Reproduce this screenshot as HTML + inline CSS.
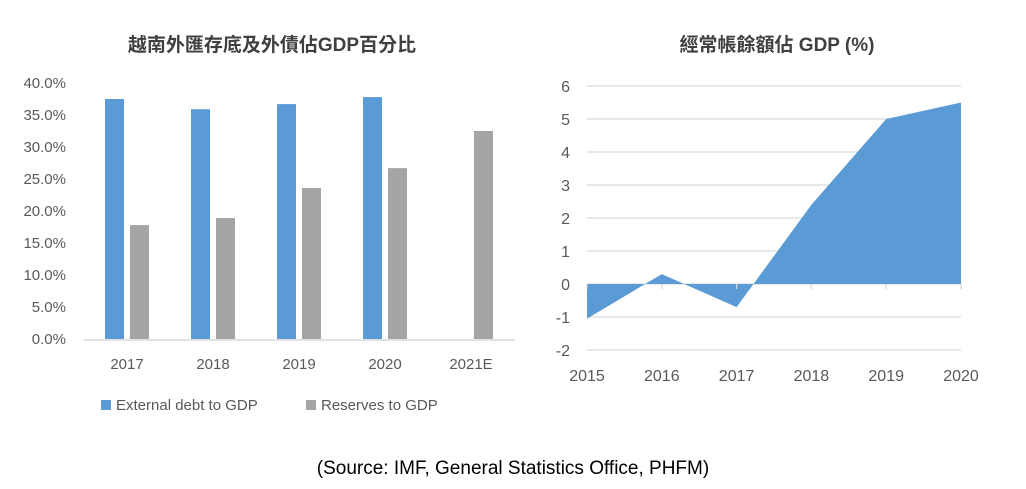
<!DOCTYPE html>
<html><head><meta charset="utf-8"><style>
body{margin:0;background:#fff;}
svg text{font-family:"Liberation Sans","Noto Sans CJK TC",sans-serif;}
</style></head><body>
<svg width="1026" height="484" viewBox="0 0 1026 484">
<text x="272" y="51" text-anchor="middle" font-size="19" font-weight="bold" fill="#404040">越南外匯存底及外債佔GDP百分比</text>
<text x="777" y="51" text-anchor="middle" font-size="19" font-weight="bold" fill="#404040">經常帳餘額佔 GDP (%)</text>
<g id="left"></g>
<g id="right"></g>
<rect x="101" y="400" width="10" height="10" fill="#5b9bd5"/>
<text x="116" y="410" font-size="15" fill="#595959">External debt to GDP</text>
<rect x="306" y="400" width="10" height="10" fill="#a5a5a5"/>
<text x="321" y="410" font-size="15" fill="#595959">Reserves to GDP</text>
<text x="513" y="474" text-anchor="middle" font-size="19" fill="#000">(Source: IMF, General Statistics Office, PHFM)</text>
</svg>
<script>
const barCategories=["2017","2018","2019","2020","2021E"];
const debtValues=[37.5,35.9,36.7,37.8,null];
const reserveValues=[17.8,18.9,23.6,26.7,32.5];
const barTicks=[0,5,10,15,20,25,30,35,40];
const areaYears=["2015","2016","2017","2018","2019","2020"];
const caValues=[-1.05,0.3,-0.7,2.4,5.0,5.5];
const areaTicks=[-2,-1,0,1,2,3,4,5,6];
const NS="http://www.w3.org/2000/svg";
function mk(p,t,a){const e=document.createElementNS(NS,t);for(const k in a)e.setAttribute(k,a[k]);p.appendChild(e);return e;}
const L=document.getElementById('left');
const yB=v=>339-v*256/40;
const xB=i=>127+i*86;
barTicks.forEach(t=>{const e=mk(L,'text',{x:66,y:yB(t)+5,'text-anchor':'end','font-size':15,fill:'#595959'});e.textContent=t.toFixed(1)+'%';

});
const ax=mk(L,'line',{x1:84,x2:515,y1:340,y2:340,stroke:'#d9d9d9','stroke-width':1.5});


barCategories.forEach((c,i)=>{
 if(debtValues[i]!=null){const r=mk(L,'rect',{x:xB(i)-22,y:yB(debtValues[i]),width:19,height:yB(0)-yB(debtValues[i]),fill:'#5b9bd5'});
 
 }
 const g=mk(L,'rect',{x:xB(i)+3,y:yB(reserveValues[i]),width:19,height:yB(0)-yB(reserveValues[i]),fill:'#a5a5a5'});
 
 
 const t=mk(L,'text',{x:xB(i),y:369,'text-anchor':'middle','font-size':15,fill:'#595959'});t.textContent=c;
 
 
});
const R=document.getElementById('right');
const yA=v=>284-v*33;
const xA=i=>587+i*74.8;
areaTicks.forEach(t=>{const l=mk(R,'line',{x1:587,x2:961,y1:yA(t),y2:yA(t),stroke:'#d9d9d9','stroke-width':1.3});


const e=mk(R,'text',{x:570,y:yA(t)+6,'text-anchor':'end','font-size':16,fill:'#595959'});e.textContent=t;

});
let d='M'+xA(0)+','+yA(0);
caValues.forEach((v,i)=>{d+=' L'+xA(i)+','+yA(v);});
d+=' L'+xA(caValues.length-1)+','+yA(0)+' Z';
const p=mk(R,'path',{d:d,fill:'#5b9bd5'});


areaYears.forEach((y,i)=>{const tk=mk(R,'line',{x1:xA(i),x2:xA(i),y1:284,y2:289,stroke:'#d9d9d9','stroke-width':1.3});


const t=mk(R,'text',{x:xA(i),y:381,'text-anchor':'middle','font-size':16,fill:'#595959'});t.textContent=y;

});
</script>
</body></html>
